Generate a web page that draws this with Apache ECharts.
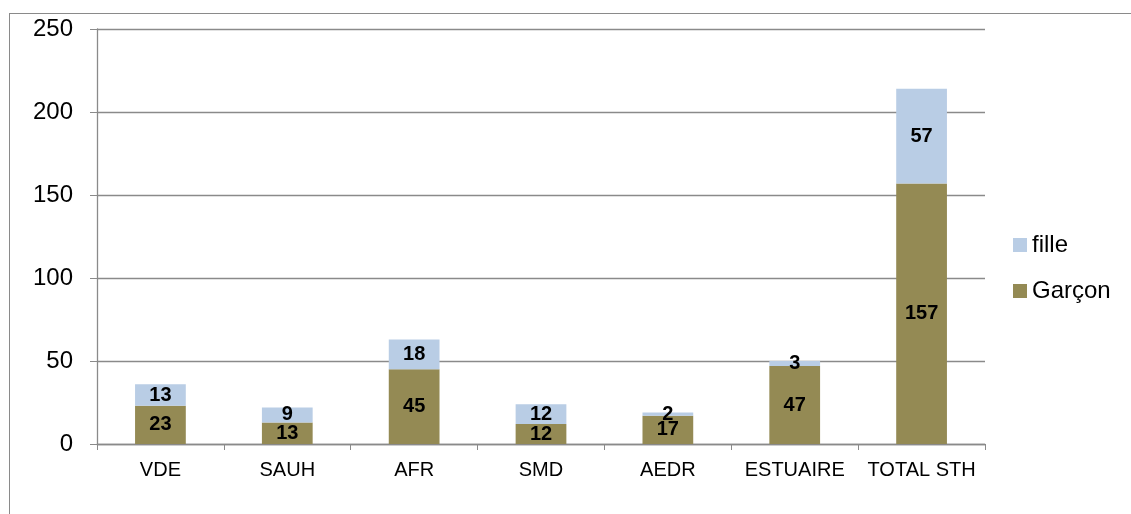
<!DOCTYPE html>
<html><head><meta charset="utf-8">
<script src="https://cdn.jsdelivr.net/npm/echarts@6/dist/echarts.min.js"></script>
<style>
html,body{margin:0;padding:0;background:#fff;}
#frame{position:absolute;left:9px;top:13px;width:1200px;height:600px;border:1.3px solid #8a8a8a;box-sizing:border-box;}
#c{position:absolute;left:0;top:0;width:1131px;height:514px;}
</style></head>
<body>
<div id="frame"></div>
<div id="c"></div>
<script>
const categories = ['VDE','SAUH','AFR','SMD','AEDR','ESTUAIRE','TOTAL STH'];
const garcon = [23,13,45,12,17,47,157];
const fille = [13,9,18,12,2,3,57];
const yTicks = [0,50,100,150,200,250];

const FONT = 'Liberation Sans, Arial, sans-serif';
const chart = echarts.init(document.getElementById('c'), null, {renderer:'canvas'});
const labelStyle = {show:true, position:'inside', color:'#000', fontWeight:'bold', fontSize:20, fontFamily:FONT};
chart.setOption({
  animation:false,
  grid:{left:97, right:146, top:29, bottom:70, containLabel:false},
  legend:{
    orient:'vertical', left:1008, top:228, itemGap:22, itemWidth:14, itemHeight:14,
    icon:'rect',
    data:['fille','Garçon'],
    textStyle:{fontSize:24, color:'#000', fontFamily:FONT}
  },
  xAxis:{
    type:'category', data:categories,
    axisLine:{lineStyle:{color:'#8a8a8a', width:1.3}},
    axisTick:{show:true, length:6, lineStyle:{color:'#8a8a8a'}, alignWithLabel:false},
    axisLabel:{interval:0, fontSize:20, color:'#000', margin:16, fontFamily:FONT}
  },
  yAxis:{
    type:'value', min:yTicks[0], max:yTicks[yTicks.length-1], interval:50,
    axisLine:{show:true, lineStyle:{color:'#8a8a8a', width:1.3}},
    axisTick:{show:true, length:7, lineStyle:{color:'#8a8a8a'}},
    splitLine:{show:true, lineStyle:{color:'#8a8a8a', width:1.3}},
    axisLabel:{fontSize:24, color:'#000', margin:24, fontFamily:FONT}
  },
  series:[
    {name:'Garçon', type:'bar', stack:'a', data:garcon, barWidth:'40%',
     itemStyle:{color:'#948A54'}, label:labelStyle},
    {name:'fille', type:'bar', stack:'a', data:fille, barWidth:'40%',
     itemStyle:{color:'#B9CDE5'}, label:labelStyle}
  ]
});
</script>
</body></html>
